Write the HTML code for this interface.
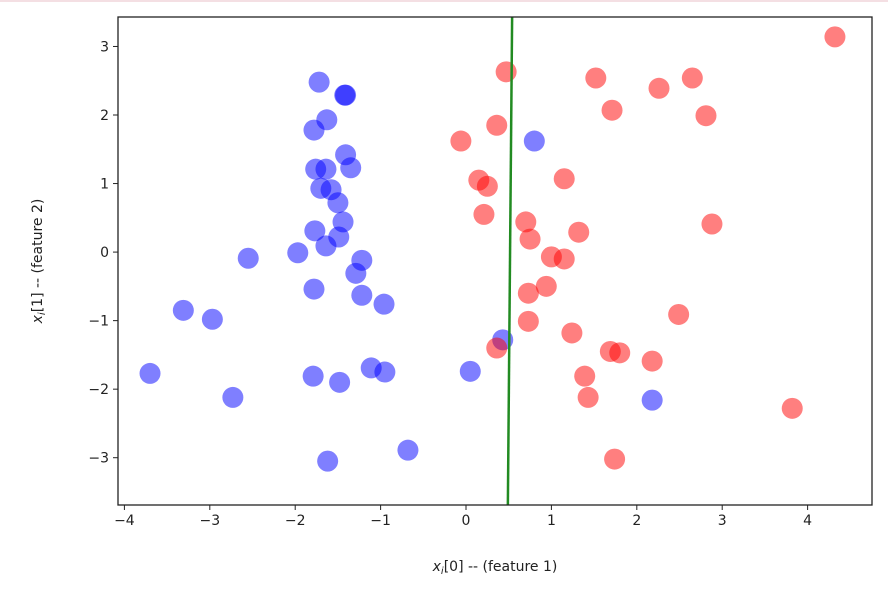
<!DOCTYPE html>
<html><head><meta charset="utf-8"><style>
body{margin:0;background:#fff;width:888px;height:591px;overflow:hidden;font-family:"Liberation Sans","DejaVu Sans",sans-serif}
svg text{font-family:"DejaVu Sans","Liberation Sans",sans-serif;font-size:14px;fill:#222}
</style></head><body>
<svg id="chart" width="888" height="591" xmlns="http://www.w3.org/2000/svg">
<rect x="0" y="0" width="888" height="2" fill="#f4dfe3"/>
<g id="marks"></g>
<g id="axes"></g>
</svg>
<script>
const blueX=[-1.72,-1.42,-1.41,-1.63,-1.78,-1.41,-1.35,-1.76,-1.64,-1.70,-1.58,-1.50,-1.44,-1.77,-1.49,-1.64,-1.97,-2.55,-1.22,-1.29,-1.22,-1.78,-0.96,-3.31,-2.97,-3.70,-1.11,-0.95,-1.79,-1.48,-2.73,-0.68,-1.62,0.05,0.43,0.80,2.18];
const blueY=[2.48,2.29,2.29,1.93,1.78,1.42,1.23,1.21,1.21,0.93,0.91,0.72,0.44,0.31,0.22,0.09,-0.01,-0.09,-0.12,-0.31,-0.63,-0.54,-0.76,-0.85,-0.98,-1.77,-1.69,-1.75,-1.81,-1.90,-2.12,-2.89,-3.05,-1.74,-1.28,1.62,-2.16];
const redX=[4.32,0.47,1.52,2.65,2.26,1.71,2.81,0.36,-0.06,1.15,0.15,0.25,0.21,0.70,2.88,0.75,1.32,1.00,1.15,0.94,0.73,0.73,2.49,1.24,0.36,1.69,1.80,2.18,1.39,1.43,3.82,1.74];
const redY=[3.14,2.63,2.54,2.54,2.39,2.07,1.99,1.85,1.62,1.07,1.05,0.96,0.55,0.44,0.41,0.19,0.29,-0.07,-0.10,-0.50,-0.60,-1.01,-0.91,-1.18,-1.40,-1.45,-1.47,-1.59,-1.81,-2.12,-2.28,-3.02];
const lineX=[0.49,0.54];
const lineY=[-3.69,3.43];
const xTicks=[-4,-3,-2,-1,0,1,2,3,4];
const yTicks=[-3,-2,-1,0,1,2,3];
const L=118,R=872,T=17,B=505,xMin=-4.075,xMax=4.754,yMin=-3.69,yMax=3.43;
const sx=v=>L+(v-xMin)/(xMax-xMin)*(R-L);
const sy=v=>B-(v-yMin)/(yMax-yMin)*(B-T);
const NS='http://www.w3.org/2000/svg';
const marks=document.getElementById('marks'),axes=document.getElementById('axes');
function mk(tag,parent,attrs){const e=document.createElementNS(NS,tag);for(const k in attrs)e.setAttribute(k,attrs[k]);parent.appendChild(e);return e;}
for(let i=0;i<blueX.length;i++){
 const c=mk('circle',marks,{cx:sx(blueX[i]),cy:sy(blueY[i]),r:10.5,fill:'rgba(0,0,255,0.5)'});
 
 
}
for(let i=0;i<redX.length;i++){
 const c=mk('circle',marks,{cx:sx(redX[i]),cy:sy(redY[i]),r:10.5,fill:'rgba(255,0,0,0.5)'});
 
 
}
const ln=mk('line',marks,{x1:sx(lineX[0]),y1:sy(lineY[0]),x2:sx(lineX[1]),y2:sy(lineY[1]),stroke:'#228b22','stroke-width':2.5});


const fr=mk('rect',axes,{x:L,y:T,width:R-L,height:B-T,fill:'none',stroke:'#222','stroke-width':1.3});


xTicks.forEach(t=>{
 const x=sx(t);
 mk('line',axes,{x1:x,y1:B,x2:x,y2:B+5,stroke:'#222','stroke-width':1});
 const tx=mk('text',axes,{x:x,y:B+20,'text-anchor':'middle'});
 tx.textContent=(t<0?'\u2212':'')+Math.abs(t);
 
 
});
yTicks.forEach(t=>{
 const y=sy(t);
 mk('line',axes,{x1:L-5,y1:y,x2:L,y2:y,stroke:'#222','stroke-width':1});
 const tx=mk('text',axes,{x:L-9,y:y+5,'text-anchor':'end'});
 tx.textContent=(t<0?'\u2212':'')+Math.abs(t);
 
 
});
const xt=mk('text',axes,{x:(L+R)/2,y:571,'text-anchor':'middle'});
xt.innerHTML='<tspan font-style="italic">x</tspan><tspan font-style="italic" font-size="10" dy="3">i</tspan><tspan dy="-3">[0] -- (feature 1)</tspan>';


const yt=mk('text',axes,{x:0,y:0,'text-anchor':'middle',transform:`translate(42,${(T+B)/2}) rotate(-90)`});
yt.innerHTML='<tspan font-style="italic">x</tspan><tspan font-style="italic" font-size="10" dy="3">i</tspan><tspan dy="-3">[1] -- (feature 2)</tspan>';


</script>
</body></html>
